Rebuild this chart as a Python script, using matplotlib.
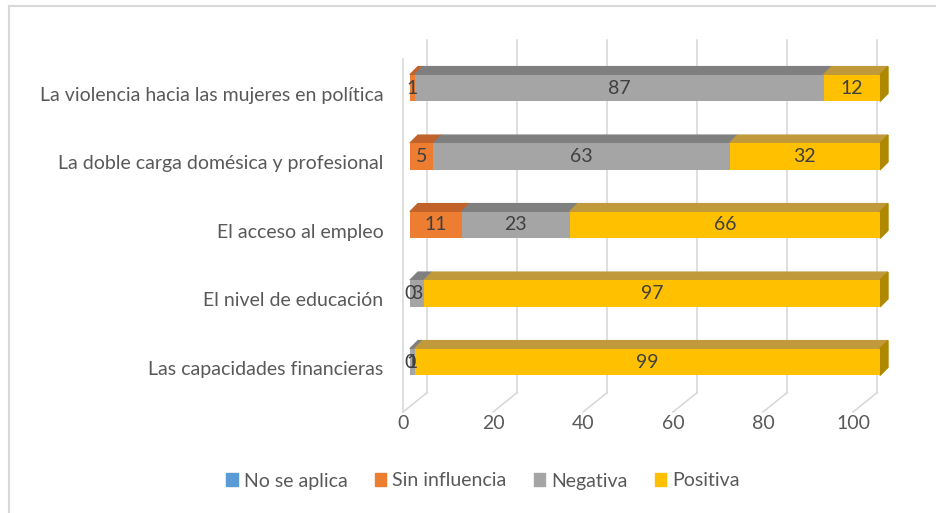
import matplotlib.pyplot as plt
import matplotlib.transforms as mtransforms
from matplotlib.patches import Polygon, Patch
from matplotlib.lines import Line2D

plt.rcParams['font.family'] = ['Lato', 'DejaVu Sans']

categorias = ["Las capacidades financieras", "El nivel de educación",
              "El acceso al empleo", "La doble carga domésica y profesional",
              "La violencia hacia las mujeres en política"]
series = ["No se aplica", "Sin influencia", "Negativa", "Positiva"]
no_aplica = [0, 0, 0, 0, 0]
sin_influencia = [0, 0, 11, 5, 1]
negativa = [1, 3, 23, 63, 87]
positiva = [99, 97, 66, 32, 12]
ticks = [0, 20, 40, 60, 80, 100]

valores = [no_aplica, sin_influencia, negativa, positiva]
frente = ["#5b9bd5", "#ed7d31", "#a5a5a5", "#ffc000"]
arriba = ["#41719c", "#c0622a", "#7f7f7f", "#c09a3a"]
lado = ["#41719c", "#ae5a21", "#7f7f7f", "#b08800"]
texto = "#595959"
fs = 14

W, H = 937, 513
fig = plt.figure(figsize=(W / 100, H / 100), dpi=100)

# axis frame in pixels
y0, paso = 362, 68.5
ylim = (-0.75, 4.6)
bot = (H - (y0 - ylim[0] * paso)) / H
alto = (ylim[1] - ylim[0]) * paso / H

# floor / gridlines axis
ax = fig.add_axes([403 / W, bot, 450 / W, alto])
ax.set_xlim(0, 100)
ax.set_ylim(*ylim)
ax.axis("off")
dx_g, y_front, y_back, y_top = 5.3, -0.73, -0.45, 4.7
gris = "#d9d9d9"
for t in ticks:
    ax.add_line(Line2D([t, t + dx_g], [y_front, y_back], color=gris, lw=1.2, clip_on=False))
    ax.add_line(Line2D([t + dx_g, t + dx_g], [y_back, y_top], color=gris, lw=1.2, clip_on=False))
    ax.text(t, y_front - 0.04, str(t), ha="center", va="top", fontsize=fs, color=texto)
ax.add_line(Line2D([0, 0], [y_front, y_top - 0.28], color=gris, lw=1.2, clip_on=False))

# bars axis
bx = fig.add_axes([410 / W, bot, 470 / W, alto])
bx.set_xlim(0, 100)
bx.set_ylim(*ylim)
bx.patch.set_alpha(0)
for s in bx.spines.values():
    s.set_visible(False)
bx.set_xticks([])
pos = list(range(len(categorias)))
bx.set_yticks(pos)
bx.set_yticklabels(categorias, fontsize=fs, color=texto)
bx.tick_params(axis="y", length=0, pad=19)
bajar = mtransforms.ScaledTranslation(0, -6 / 100, fig.dpi_scale_trans)
for lab in bx.get_yticklabels():
    lab.set_transform(lab.get_transform() + bajar)

h = 0.39
dx, dy = 1.7, 0.117
for i in pos:
    izq = 0
    ultimo = max(k for k in range(4) if valores[k][i] > 0)
    for k in range(4):
        v = valores[k][i]
        if v > 0:
            bx.barh(i, v, left=izq, height=h, color=frente[k], zorder=3)
            top = i + h / 2
            bx.add_patch(Polygon([(izq, top), (izq + v, top), (izq + v + dx, top + dy),
                                  (izq + dx, top + dy)], closed=True, color=arriba[k],
                                 zorder=2, clip_on=False))
            if k == ultimo:
                bx.add_patch(Polygon([(izq + v, i - h / 2), (izq + v, top),
                                      (izq + v + dx, top + dy), (izq + v + dx, i - h / 2 + dy)],
                                     closed=True, color=lado[k], zorder=2, clip_on=False))
        if k > 0:
            bx.text(izq + v / 2, i, str(v), ha="center", va="center",
                    fontsize=fs, color="#404040", zorder=4)
        izq += v

handles = [Patch(color=c, label=s) for c, s in zip(frente, series)]
fig.legend(handles=handles, loc="center", bbox_to_anchor=(483 / W, 1 - 481 / H),
           ncol=4, frameon=False, fontsize=fs, handlelength=0.6, handleheight=0.6,
           handletextpad=0.3, columnspacing=1.4, labelcolor=texto)

# chart border (cropped on right and bottom)
fig.add_artist(Line2D([9 / W, 1], [1 - 6 / H, 1 - 6 / H], color=gris, lw=1.5))
fig.add_artist(Line2D([9 / W, 9 / W], [0, 1 - 6 / H], color=gris, lw=1.5))

fig.savefig("out.png", dpi=100)
